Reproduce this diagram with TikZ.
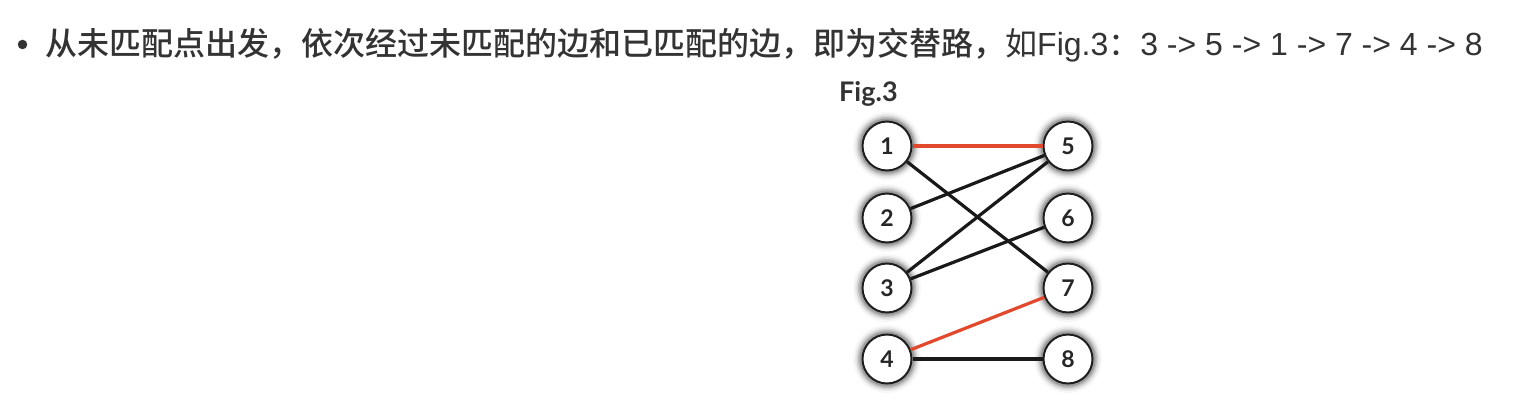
\documentclass[tikz,border=0pt]{standalone}
\usepackage{fontspec}
\setmainfont{Liberation Sans}
\newfontfamily\cjk{Noto Sans CJK SC}
\newfontfamily\cjkm{Noto Sans CJK SC Medium}
\newfontfamily\latin{Liberation Sans}
\newfontfamily\numfont{Lato}
\definecolor{txt}{RGB}{51,51,51}
\definecolor{matched}{RGB}{226,72,44}
\definecolor{ringc}{RGB}{30,30,30}
\tikzset{
  vtx/.style={circle, draw=ringc, line width=2pt, fill=white, minimum size=49pt, inner sep=0pt,
    font=\numfont\bfseries\fontsize{23}{23}\selectfont, text=black!85},
  edge/.style={line width=3.2pt, draw=black!90},
  medge/.style={line width=3.2pt, draw=matched},
}
\newcommand{\glowat}[1]{%
  \foreach \r/\o in {34/0.03,32/0.05,30.5/0.08,29/0.12,27.5/0.16}{%
    \fill[black,opacity=\o] #1 circle (\r pt);}%
}
\begin{document}
\begin{tikzpicture}[x=1pt,y=-1pt]
\useasboundingbox[fill=white] (0,0) rectangle (1534,414);
% bullet line
\node[circle, fill=txt, inner sep=0pt, minimum size=9.5pt] (bullet) at (22.5,44.5) {};
\node[anchor=base west, inner sep=0pt, text=txt, font=\fontsize{32}{38}\selectfont] (line) at (45,56)
  {{\cjkm 从未匹配点出发，依次经过未匹配的边和已匹配的边，即为交替路，}{\cjk 如}{\latin Fig.3}{\cjk ：}{\latin 3 -> 5 -> 1 -> 7 -> 4 -> 8}};
% figure label
\node[anchor=base west, inner sep=0pt, text=black!80, font=\numfont\bfseries\fontsize{27}{27}\selectfont] (figlabel) at (839,102) {Fig.3};
% glows
\foreach \y in {146,218,288,359}{\glowat{(887,\y)}\glowat{(1068,\y)}}
\coordinate (c1) at (887,146);
\coordinate (c2) at (887,218);
\coordinate (c3) at (887,288);
\coordinate (c4) at (887,359);
\coordinate (c5) at (1068,146);
\coordinate (c6) at (1068,218);
\coordinate (c7) at (1068,288);
\coordinate (c8) at (1068,359);
\node[vtx] (n1) at (c1) {1};
\node[vtx] (n2) at (c2) {2};
\node[vtx] (n3) at (c3) {3};
\node[vtx] (n4) at (c4) {4};
\node[vtx] (n5) at (c5) {5};
\node[vtx] (n6) at (c6) {6};
\node[vtx] (n7) at (c7) {7};
\node[vtx] (n8) at (c8) {8};
\draw[medge] (n1) -- (n5);
\draw[edge] (n1) -- (n7);
\draw[edge] (n2) -- (n5);
\draw[edge] (n3) -- (n5);
\draw[edge] (n3) -- (n6);
\draw[medge] (n4) -- (n7);
\draw[edge] (n4) -- (n8);
\end{tikzpicture}
\end{document}
